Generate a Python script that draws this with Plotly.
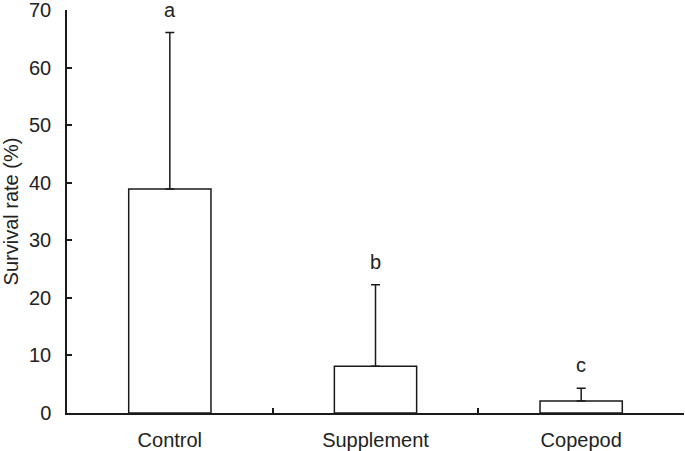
import plotly.graph_objects as go

categories = ["Control", "Supplement", "Copepod"]
means = [38.9, 8.1, 2.1]
errors = [27.2, 14.2, 2.2]
letters = ["a", "b", "c"]
y_ticks = [0, 10, 20, 30, 40, 50, 60, 70]

FONT = "Liberation Sans, Arial, sans-serif"
FS = 20
TXT = "#222"

fig = go.Figure()
fig.add_trace(go.Bar(
    x=categories, y=means, width=0.4,
    marker=dict(color="white", line=dict(color="#1a1a1a", width=1.5)),
    error_y=dict(type="data", array=errors, arrayminus=[0]*len(errors),
                 symmetric=False, color="#1a1a1a", thickness=1.5, width=4.5),
))
for c, m, e, l in zip(categories, means, errors, letters):
    fig.add_annotation(x=c, y=m + e, text=l, showarrow=False, yshift=23,
                       yanchor="middle", font=dict(family=FONT, size=FS, color=TXT))

fig.update_layout(
    width=685, height=451, margin=dict(l=67, r=1, t=10, b=38),
    plot_bgcolor="white", paper_bgcolor="white", showlegend=False,
    font=dict(family=FONT, size=FS, color=TXT),
)
fig.update_xaxes(type="category", range=[-0.5, 2.5], showline=True, linecolor="#1a1a1a",
                 linewidth=1.5, ticks="inside", ticklen=5, tickcolor="#1a1a1a", tickwidth=1.5,
                 tickson="boundaries", showgrid=False, zeroline=False, automargin=False,
                 ticklabelstandoff=8,
                 tickfont=dict(family=FONT, size=FS, color=TXT))
fig.update_yaxes(range=[0, 70.01], tickvals=y_ticks, showline=True, linecolor="#1a1a1a",
                 linewidth=1.5, ticks="inside", ticklen=5, tickcolor="#1a1a1a", tickwidth=1.5,
                 showgrid=False, zeroline=False, ticklabelstandoff=10, automargin=False,
                 ticklabeloverflow="allow",
                 title=dict(text="Survival rate (%)", standoff=5,
                            font=dict(family=FONT, size=FS, color=TXT)),
                 tickfont=dict(family=FONT, size=FS, color=TXT))

fig.write_html("out.html", config={"displayModeBar": False},
               post_script="document.body.style.margin='0';")
